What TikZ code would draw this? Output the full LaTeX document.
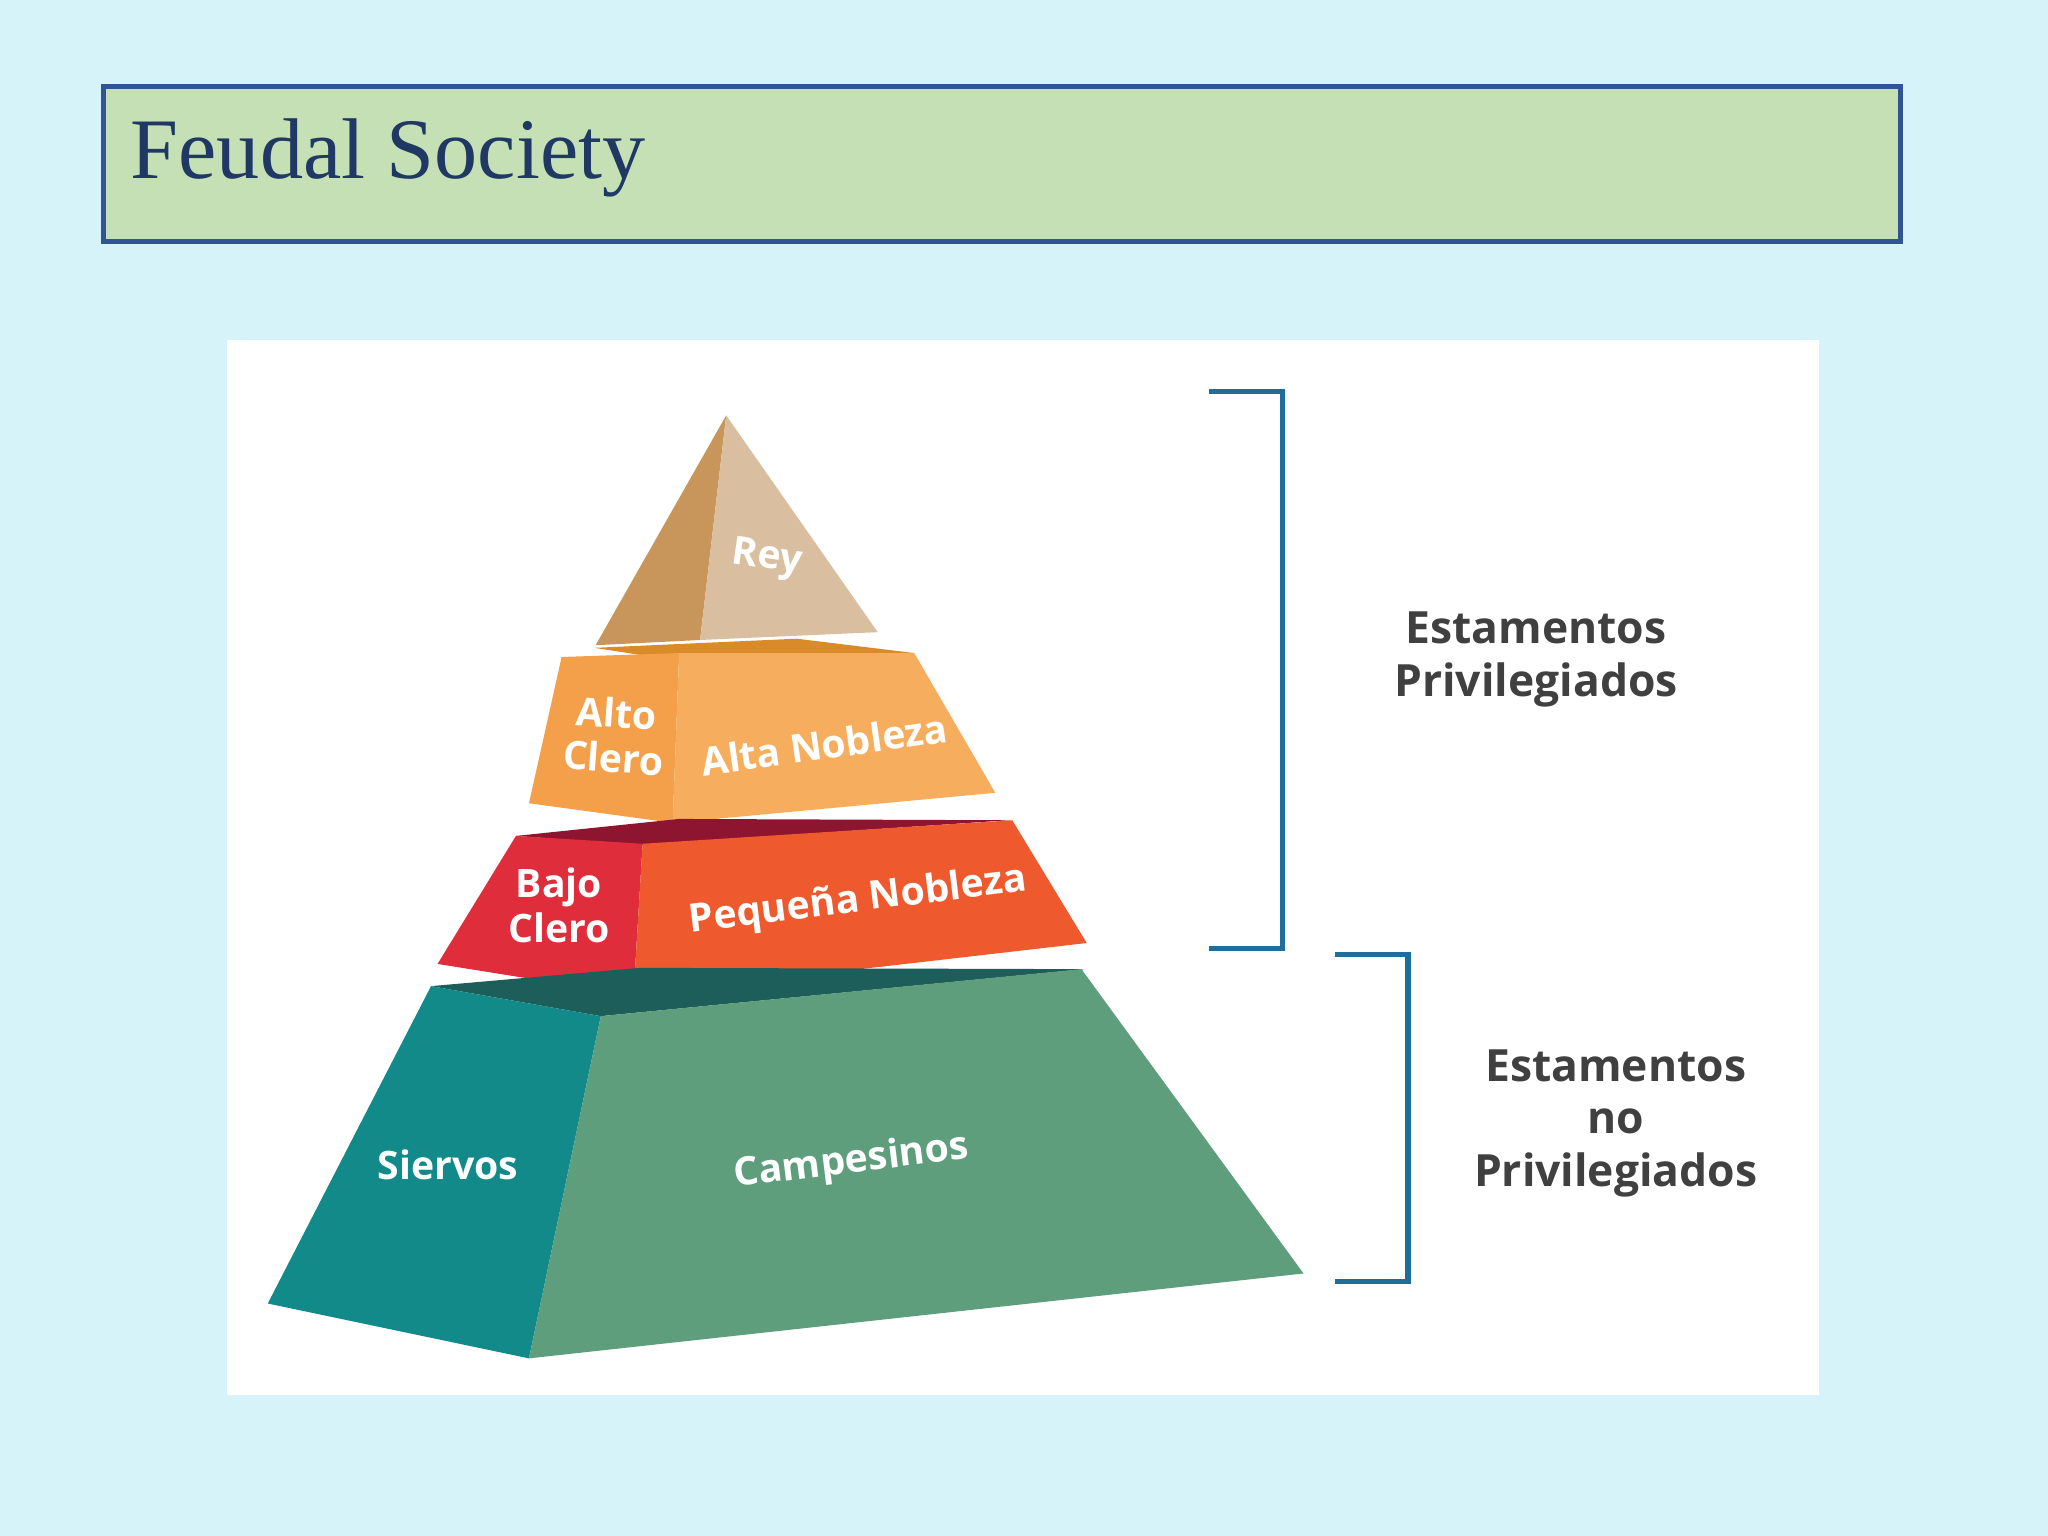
\documentclass[tikz,border=0pt]{standalone}
\usepackage{fontspec}
\setsansfont{Open Sans}
\setmainfont{Liberation Serif}
\begin{document}
\begin{tikzpicture}[x=0.5pt,y=-0.5pt,
 lab/.style={text=white,font=\sffamily\bfseries\fontsize{15}{17}\selectfont,align=center},
 side/.style={text=black!75,font=\sffamily\bfseries\fontsize{17}{20}\selectfont,align=center},
 brk/.style={draw=black!30!blue!60!cyan!80!black,line width=2pt}]
\fill[fill={rgb,255:red,214;green,243;blue,250}] (0,0) rectangle (1568,1176);
\useasboundingbox (0,0) rectangle (1568,1176);
\draw[fill={rgb,255:red,197;green,224;blue,180},draw={rgb,255:red,47;green,85;blue,151},line width=2pt] (79,66) rectangle (1455,185);
\node[anchor=base west,text={rgb,255:red,31;green,56;blue,100},font=\fontsize{33}{36}\selectfont] (title) at (93,137) {Feudal Society};
\fill[white] (174,260) rectangle (1393,1068);
% Rey
\fill[fill={rgb,255:red,200;green,149;blue,90}] (556,318)--(456,494)--(536,490)--cycle;
\fill[fill={rgb,255:red,217;green,191;blue,160}] (556,318)--(536,490)--(672,484)--cycle;
% Alto
\fill[fill={rgb,255:red,217;green,139;blue,42}] (455,496)--(610,489)--(700,500)--(520,506)--cycle;
\fill[fill={rgb,255:red,244;green,160;blue,74}] (430,503)--(520,500)--(515,630)--(405,615)--cycle;
\fill[fill={rgb,255:red,246;green,174;blue,94}] (520,500)--(700,500)--(762,607)--(515,630)--cycle;
% Bajo
\fill[fill={rgb,255:red,142;green,21;blue,48}] (395,640)--(520,627)--(772,628)--(490,647)--cycle;
\fill[fill={rgb,255:red,224;green,45;blue,60}] (395,640)--(492,646)--(485,762)--(335,738)--cycle;
\fill[fill={rgb,255:red,238;green,90;blue,46}] (492,646)--(775,628)--(832,722)--(485,762)--cycle;
% Base
\fill[fill={rgb,255:red,30;green,94;blue,90}] (330,755)--(490,741)--(830,742)--(460,778)--cycle;
\fill[fill={rgb,255:red,18;green,138;blue,138}] (330,755)--(460,778)--(405,1040)--(205,998)--cycle;
\fill[fill={rgb,255:red,94;green,158;blue,124}] (460,778)--(828,742)--(998,975)--(405,1040)--cycle;
% labels
\node[lab,rotate=-8] (rey) at (587,428) {Rey};
\node[lab,rotate=-4] (alto) at (471,563) {Alto\\Clero};
\node[lab,rotate=8] (altan) at (631,570) {Alta Nobleza};
\node[lab] (bajo) at (428,693) {Bajo\\Clero};
\node[lab,rotate=7] (peq) at (657,690) {Pequeña Nobleza};
\node[lab] (sier) at (343,892) {Siervos};
\node[lab,rotate=7] (camp) at (652,890) {Campesinos};
% brackets
\draw[brk,draw={rgb,255:red,31;green,110;blue,154}] (926,300)--(982,300)--(982,726)--(926,726);
\draw[brk,draw={rgb,255:red,31;green,110;blue,154}] (1022,731)--(1078,731)--(1078,981)--(1022,981);
\node[side] (priv) at (1176,505) {Estamentos\\Privilegiados};
\node[side] (nopriv) at (1237,860) {Estamentos\\no\\Privilegiados};
\end{tikzpicture}
\end{document}
